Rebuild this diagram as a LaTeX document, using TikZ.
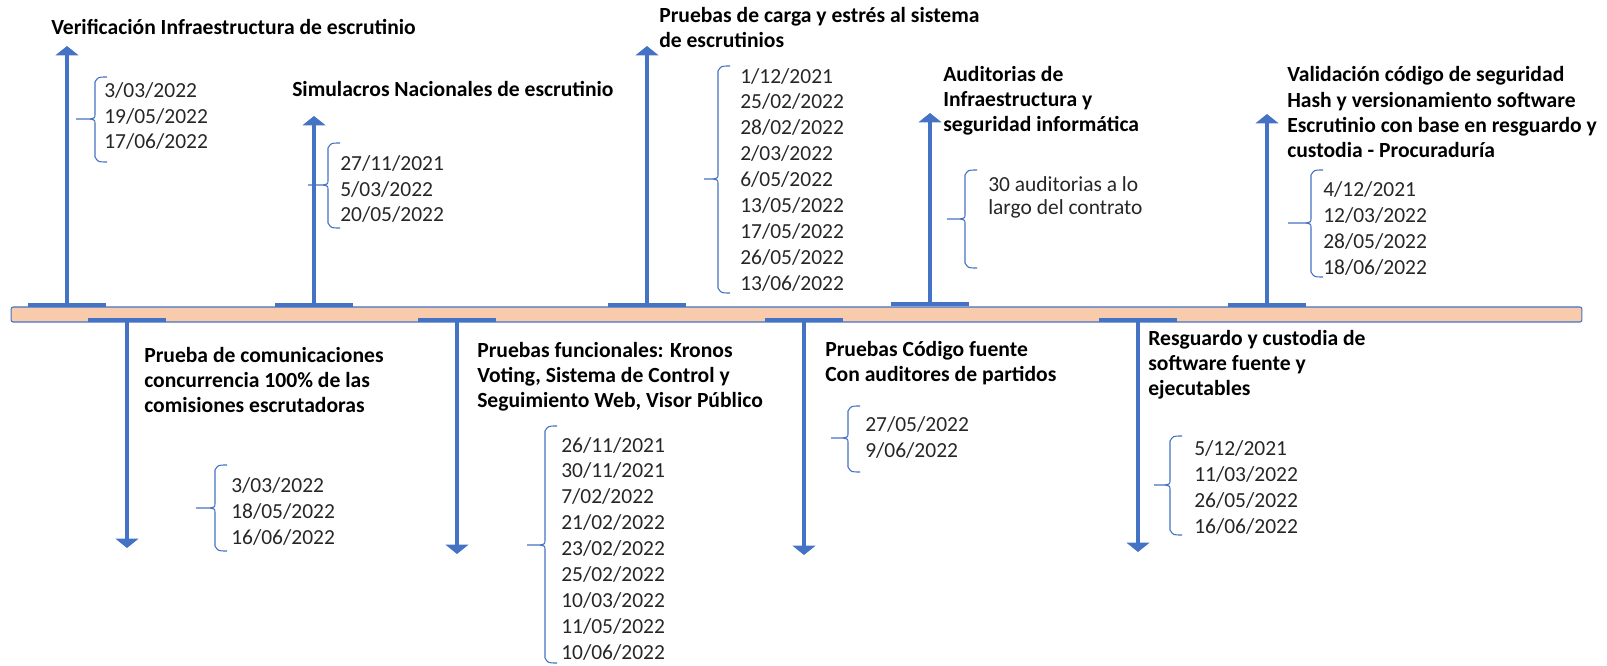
\documentclass[tikz,border=0pt]{standalone}
\usepackage{fontspec}
\setmainfont{Carlito}
\usetikzlibrary{arrows.meta,positioning}
\definecolor{lineblue}{RGB}{68,114,196}
\definecolor{barfill}{RGB}{248,203,173}

% left brace: vertical x, top, bottom, tip x, tip y
\newcommand{\llave}[5]{%
  \draw[llave] (#1+12,#2) .. controls (#1+3,#2) .. (#1,#2+5) -- (#1,#5-5)
    .. controls (#1,#5-1) .. (#1-5,#5) -- (#4,#5);
  \draw[llave] (#1+12,#3) .. controls (#1+3,#3) .. (#1,#3-5) -- (#1,#5+5)
    .. controls (#1,#5+1) .. (#1-5,#5);
}

\begin{document}
\begin{tikzpicture}[
    x=0.75pt, y=-0.75pt,
    bar/.style={draw=lineblue, fill=barfill, rounded corners=1.5pt, line width=0.8pt, minimum width=1178pt, minimum height=11.25pt, inner sep=0},
    tick/.style={fill=lineblue, minimum width=58.5pt, minimum height=3pt, inner sep=0},
    arr/.style={draw=lineblue, line width=3pt, -{Triangle[width=17pt,length=7pt]}},
    title/.style={font=\fontsize{16.2pt}{19.1pt}\selectfont\bfseries, align=left, anchor=base west, inner sep=0},
    dates/.style={font=\fontsize{16.1pt}{19.45pt}\selectfont, text=black!85, align=left, anchor=base west, inner sep=0},
    llave/.style={draw=lineblue, line width=0.8pt}
]
\useasboundingbox (0,0) rectangle (1607,666);

\node[bar] (bar) at (796.5,314.5) {};

% above the bar (text nodes sit on the baseline of their last line)
\node[tick] (verif) at (67,305) {};
\coordinate (verifend) at (67,46);
\draw[arr] (verif.center) -- (verifend);
\node[title] (veriftitle) at (51,35) {Verificación Infraestructura de escrutinio};
\node[dates] (verifdate) at (104,149) {3/03/2022\\19/05/2022\\17/06/2022};
\llave{95}{77}{162}{76}{119}

\node[tick] (simul) at (314,305) {};
\coordinate (simulend) at (314,116);
\draw[arr] (simul.center) -- (simulend);
\node[title] (simultitle) at (292,97) {Simulacros Nacionales de escrutinio};
\node[dates] (simuldate) at (340,222) {27/11/2021\\5/03/2022\\20/05/2022};
\llave{328}{143}{228}{308}{185}

\node[tick] (carga) at (647,305) {};
\coordinate (cargaend) at (647,46);
\draw[arr] (carga.center) -- (cargaend);
\node[title] (cargatitle) at (659,48) {Pruebas de carga y estrés al sistema\\de escrutinios};
\node[dates] (cargadate) at (740,290.5) {1/12/2021\\25/02/2022\\28/02/2022\\2/03/2022\\6/05/2022\\13/05/2022\\17/05/2022\\26/05/2022\\13/06/2022};
\llave{718}{66}{293}{704}{179}

\node[tick] (audit) at (930,304) {};
\coordinate (auditend) at (930,113);
\draw[arr] (audit.center) -- (auditend);
\node[title] (audittitle) at (943,132) {Auditorias de\\Infraestructura y\\seguridad informática};
\node[dates, font=\fontsize{16.1pt}{17.3pt}\selectfont] (auditnote) at (988,215) {30 auditorias a lo\\largo del contrato};
\llave{965}{170}{268}{947}{219}

\node[tick] (hash) at (1267,305) {};
\coordinate (hashend) at (1267,114);
\draw[arr] (hash.center) -- (hashend);
\node[title] (hashtitle) at (1287,158) {Validación código de seguridad\\Hash y versionamiento software\\Escrutinio con base en resguardo y\\custodia - Procuraduría};
\node[dates] (hashdate) at (1323,274.5) {4/12/2021\\12/03/2022\\28/05/2022\\18/06/2022};
\llave{1311}{170}{277}{1288}{223}

% below the bar
\node[tick] (comun) at (127,320) {};
\coordinate (comunend) at (127,548);
\draw[arr] (comun.center) -- (comunend);
\node[title] (comuntitle) at (144,413) {Prueba de comunicaciones\\concurrencia 100\% de las\\comisiones escrutadoras};
\node[dates] (comundate) at (231,544.5) {3/03/2022\\18/05/2022\\16/06/2022};
\llave{215}{465}{551}{196}{508}

\node[tick] (funcional) at (457,320) {};
\coordinate (funcionalend) at (457,554);
\draw[arr] (funcional.center) -- (funcionalend);
\node[title] (funcionaltitle) at (477,408) {Pruebas funcionales: Kronos\\Voting, Sistema de Control y\\Seguimiento Web, Visor Público};
\node[dates] (funcionaldate) at (561,659.5) {26/11/2021\\30/11/2021\\7/02/2022\\21/02/2022\\23/02/2022\\25/02/2022\\10/03/2022\\11/05/2022\\10/06/2022};
\llave{545}{426}{663}{527}{545}

\node[tick] (codigo) at (804,320) {};
\coordinate (codigoend) at (804,555);
\draw[arr] (codigo.center) -- (codigoend);
\node[title] (codigotitle) at (825,382) {Pruebas Código fuente\\Con auditores de partidos};
\node[dates] (codigodate) at (865,457.5) {27/05/2022\\9/06/2022};
\llave{848}{406}{472}{831}{438}

\node[tick] (resguardo) at (1138,320) {};
\coordinate (resguardoend) at (1138,552);
\draw[arr] (resguardo.center) -- (resguardoend);
\node[title] (resguardotitle) at (1148,396) {Resguardo y custodia de\\software fuente y\\ejecutables};
\node[dates] (resguardodate) at (1194,533.5) {5/12/2021\\11/03/2022\\26/05/2022\\16/06/2022};
\llave{1170}{436}{535}{1154}{485}
\end{tikzpicture}
\end{document}
